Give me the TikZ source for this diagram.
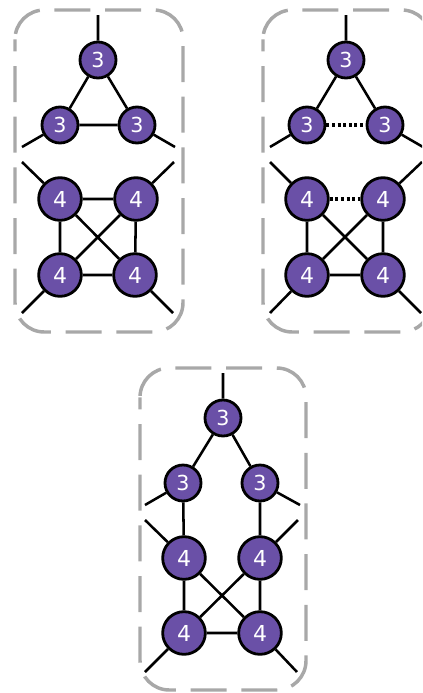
\documentclass[tikz,border=0pt]{standalone}
\usepackage{fontspec}
\setmainfont{DejaVu Sans}
\definecolor{vfill}{HTML}{6A50A7}
\definecolor{boxgray}{HTML}{A8A8A8}
\begin{document}
\begin{tikzpicture}[x=0.75pt,y=-0.75pt,
  vthree/.style={circle,draw=black,line width=2.1pt,fill=vfill,minimum size=27pt,inner sep=0pt,text=white,font=\fontsize{15.5pt}{15.5pt}\selectfont},
  vfour/.style={circle,draw=black,line width=2.1pt,fill=vfill,minimum size=32pt,inner sep=0pt,text=white,font=\fontsize{16.5pt}{16.5pt}\selectfont},
  edge/.style={line width=1.9pt,black},
  dotedge/.style={line width=2.3pt,black,dash pattern=on 2.3pt off 1.9pt},
  group/.style={draw=boxgray,line width=2.6pt,rounded corners=22pt,dash pattern=on 27pt off 11pt,dash phase=18pt}]
\useasboundingbox (0,0) rectangle (422,693);
\clip (0,0) rectangle (422,693);

% ---- left group: triangle of degree-3 vertices over a K4
\draw[group] (15,10) rectangle (183,332);
\coordinate (at) at (98,15);
\coordinate (al) at (22,147);
\coordinate (ar) at (175,147);
\coordinate (bl) at (22,162);
\coordinate (br) at (174,162);
\coordinate (cl) at (22,313);
\coordinate (cr) at (173,313);
\node[vthree] (a1) at (98,60) {3};
\node[vthree] (a2) at (60,125) {3};
\node[vthree] (a3) at (137,125) {3};
\node[vfour] (b1) at (60,199) {4};
\node[vfour] (b2) at (136,199) {4};
\node[vfour] (b3) at (60,275) {4};
\node[vfour] (b4) at (135,275) {4};
\draw[edge] (at) -- (a1) (a2) -- (al) (a3) -- (ar)
  (a1) -- (a2) (a1) -- (a3) (a2) -- (a3)
  (bl) -- (b1) (br) -- (b2) (cl) -- (b3) (cr) -- (b4)
  (b1) -- (b2) (b1) -- (b3) (b2) -- (b4) (b3) -- (b4) (b1) -- (b4) (b2) -- (b3);

% ---- right group: two edges removed (dotted)
\draw[group] (263,10) rectangle (431,332);
\coordinate (dt) at (346,15);
\coordinate (dl) at (270,147);
\coordinate (dr) at (423,147);
\coordinate (el) at (270,162);
\coordinate (er) at (422,162);
\coordinate (fl) at (270,313);
\coordinate (fr) at (421,313);
\node[vthree] (d1) at (346,60) {3};
\node[vthree] (d2) at (307,125) {3};
\node[vthree] (d3) at (385,125) {3};
\node[vfour] (e1) at (307,199) {4};
\node[vfour] (e2) at (383,199) {4};
\node[vfour] (e3) at (307,275) {4};
\node[vfour] (e4) at (383,275) {4};
\draw[edge] (dt) -- (d1) (d2) -- (dl) (d3) -- (dr)
  (d1) -- (d2) (d1) -- (d3)
  (el) -- (e1) (er) -- (e2) (fl) -- (e3) (fr) -- (e4)
  (e1) -- (e3) (e2) -- (e4) (e3) -- (e4) (e1) -- (e4) (e2) -- (e3);
\draw[dotedge] (d2) -- (d3) (e1) -- (e2);

% ---- bottom group: rewired result
\draw[group] (140,368) rectangle (306,690);
\coordinate (gt) at (223,373);
\coordinate (gl) at (145,505);
\coordinate (gr) at (300,505);
\coordinate (hl) at (145,520);
\coordinate (hr) at (298,520);
\coordinate (kl) at (145,672);
\coordinate (kr) at (297,672);
\node[vthree] (g1) at (223,418) {3};
\node[vthree] (g2) at (183,483) {3};
\node[vthree] (g3) at (260,483) {3};
\node[vfour] (h1) at (184,558) {4};
\node[vfour] (h2) at (260,558) {4};
\node[vfour] (h3) at (184,633) {4};
\node[vfour] (h4) at (260,633) {4};
\draw[edge] (gt) -- (g1) (g2) -- (gl) (g3) -- (gr)
  (g1) -- (g2) (g1) -- (g3) (g2) -- (h1) (g3) -- (h2)
  (hl) -- (h1) (hr) -- (h2) (kl) -- (h3) (kr) -- (h4)
  (h1) -- (h3) (h2) -- (h4) (h3) -- (h4) (h1) -- (h4) (h2) -- (h3);
\end{tikzpicture}
\end{document}
